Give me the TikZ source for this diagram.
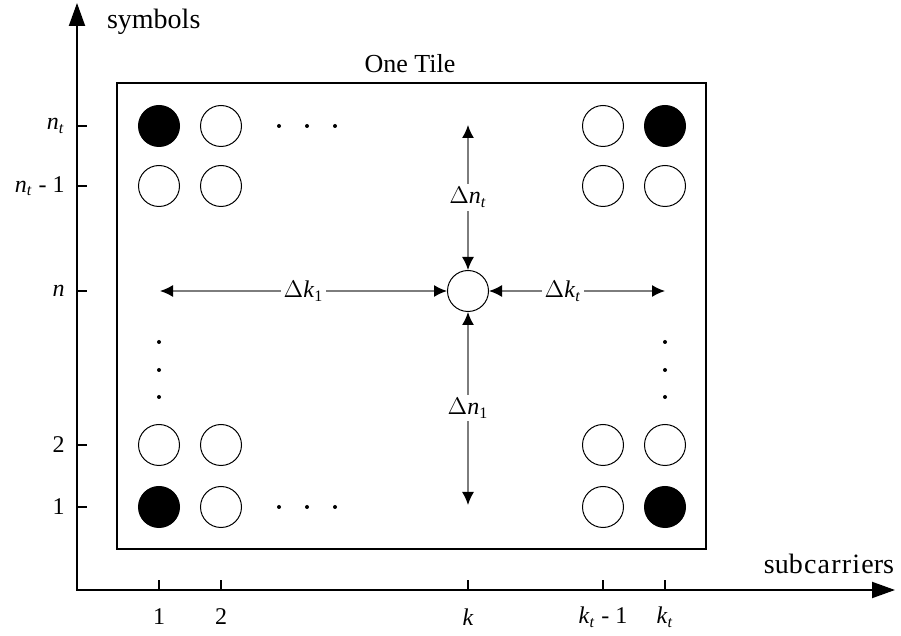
\documentclass[tikz,border=0pt]{standalone}
\usepackage{fontspec}
\setmainfont{Liberation Serif}
\usetikzlibrary{arrows.meta,positioning}
\definecolor{ArrowGray}{RGB}{125,125,125}
\newcommand{\vi}[1]{\textit{#1}}
\newcommand{\lbl}{\fontsize{12}{14}\selectfont}
\newcommand{\axlbl}{\fontsize{14}{16}\selectfont}
\tikzset{
  >=Latex,
  pilot/.style={circle,draw=black,line width=.5pt,fill=black,minimum size=20.5pt,inner sep=0pt},
  sym/.style={circle,draw=black,line width=.5pt,fill=white,minimum size=20.5pt,inner sep=0pt},
  dot/.style={circle,fill=black,minimum size=2pt,inner sep=0pt},
  axis/.style={line width=1pt,{Triangle[length=11.5pt,width=8pt]}-{Triangle[length=11.5pt,width=8pt]}},
  tickmark/.style={line width=.9pt},
  ticklabel/.style={font=\lbl,inner sep=1pt},
  tile/.style={draw=black,line width=1pt},
  dist/.style={{Latex[length=6.5pt,width=6pt,color=black]}-{Latex[length=6.5pt,width=6pt,color=black]},draw=ArrowGray,line width=.7pt},
  distlabel/.style={fill=white,inner sep=1.5pt,font=\lbl}
}
\begin{document}
\begin{tikzpicture}[x=.5pt,y=-.5pt]
  \useasboundingbox (0,0) rectangle (901,636);
  % axes
  \coordinate (O) at (77,590);
  \coordinate (ytop) at (77,3);
  \coordinate (xend) at (895,590);
  \draw[axis] (ytop) -- (O) -- (xend);
  \node[font=\axlbl,anchor=west] (ylab) at (100,22) {symbols};
  \node[font=\axlbl] (xlab) at (829,564) {sub\hspace{.6pt}c\hspace{.6pt}a\hspace{.6pt}r\hspace{.6pt}r\hspace{.6pt}i\hspace{.6pt}ers};
  \foreach \y in {126,186,291,445,507}{\draw[tickmark] (77,\y) -- (87,\y);}
  \foreach \x in {159,221,468,603,665}{\draw[tickmark] (\x,590) -- (\x,580);}
  \node[ticklabel,anchor=east] (ynt) at (67,126) {\vi{n}\textsubscript{\vi{t}}};
  \node[ticklabel,anchor=east] (yntm) at (67,186) {\vi{n}\textsubscript{\vi{t}} - 1};
  \node[ticklabel,anchor=east] (yn) at (67,291) {\vi{n}};
  \node[ticklabel,anchor=east] (y2) at (67,445) {2};
  \node[ticklabel,anchor=east] (y1) at (67,507) {1};
  \node[ticklabel] (x1) at (159,617) {1};
  \node[ticklabel] (x2) at (221,617) {2};
  \node[ticklabel] (xk) at (468,617) {\vi{k}};
  \node[ticklabel] (xktm) at (603,617) {\vi{k}\textsubscript{\vi{t}} - 1};
  \node[ticklabel] (xkt) at (665,617) {\vi{k}\textsubscript{\vi{t}}};
  % tile
  \draw[tile] (117,83) rectangle (706,549);
  \node[font=\fontsize{13}{15}\selectfont] (title) at (410,64) {One Tile};
  % symbols of the tile
  \foreach \x/\y in {159/126,665/126,159/507,665/507}{\node[pilot] (p-\x-\y) at (\x,\y) {};}
  \foreach \x/\y in {221/126,603/126,159/186,221/186,603/186,665/186,159/445,221/445,603/445,665/445,221/507,603/507}{\node[sym] (s-\x-\y) at (\x,\y) {};}
  \foreach \x in {279,307,335}{\node[dot] at (\x,126) {}; \node[dot] at (\x,507) {};}
  \foreach \y in {342,370,397}{\node[dot] at (159,\y) {}; \node[dot] at (665,\y) {};}
  % distances from the centre symbol
  \node[sym] (ctr) at (468,291) {};
  \coordinate (lft) at (160,291);
  \coordinate (rgt) at (665,291);
  \coordinate (up) at (468,125);
  \coordinate (dn) at (468,505);
  \draw[dist] (lft) -- node[distlabel] {$\Delta$\vi{k}\textsubscript{1}} (ctr);
  \draw[dist] (ctr) -- node[distlabel,pos=.42] {$\Delta$\vi{k}\textsubscript{\vi{t}}} (rgt);
  \draw[dist] (up) -- node[distlabel] {$\Delta$\vi{n}\textsubscript{\vi{t}}} (ctr);
  \draw[dist] (ctr) -- node[distlabel] {$\Delta$\vi{n}\textsubscript{1}} (dn);
\end{tikzpicture}
\end{document}
